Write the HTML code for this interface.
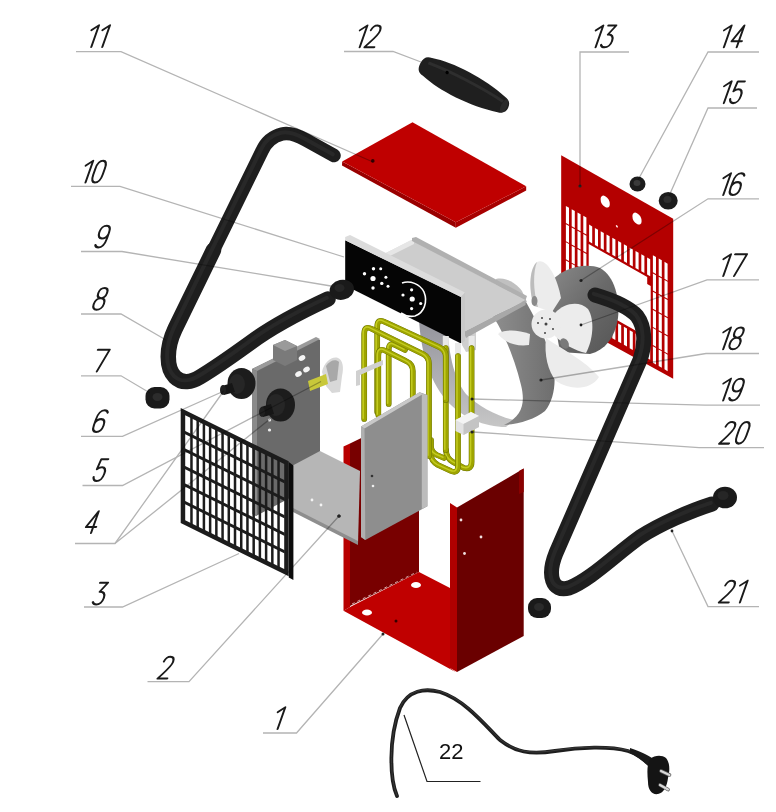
<!DOCTYPE html>
<html><head><meta charset="utf-8"><style>
html,body{margin:0;padding:0;background:#fff;}
body{width:776px;height:812px;overflow:hidden;font-family:"Liberation Sans",sans-serif;}
svg{display:block;filter:blur(0.35px);}
</style></head><body>
<svg width="776" height="812" viewBox="0 0 776 812">
<rect width="776" height="812" fill="#fff"/>
<g transform="matrix(1,0.567,0,1,561.2,155.3)"><path d="M0 0 L112 0 L112 160 L0 162 Z" fill="#b40000"/><rect x="4.7" y="48" width="3.1" height="17.0" fill="#fff"/><rect x="10.5" y="48" width="3.1" height="17.0" fill="#fff"/><rect x="16.3" y="48" width="3.1" height="17.0" fill="#fff"/><rect x="22.1" y="48" width="3.1" height="17.0" fill="#fff"/><rect x="27.9" y="53.5" width="3.1" height="17" fill="#fff"/><rect x="33.7" y="53.5" width="3.1" height="17" fill="#fff"/><rect x="39.5" y="53.5" width="3.1" height="17" fill="#fff"/><rect x="45.3" y="53.5" width="3.1" height="17" fill="#fff"/><rect x="51.1" y="53.5" width="3.1" height="17" fill="#fff"/><rect x="56.9" y="53.5" width="3.1" height="17" fill="#fff"/><rect x="62.7" y="53.5" width="3.1" height="17" fill="#fff"/><rect x="68.5" y="53.5" width="3.1" height="17" fill="#fff"/><rect x="74.3" y="53.5" width="3.1" height="17" fill="#fff"/><rect x="80.1" y="53.5" width="3.1" height="17" fill="#fff"/><rect x="85.9" y="53.5" width="3.1" height="17" fill="#fff"/><rect x="91.7" y="48" width="3.1" height="17.0" fill="#fff"/><rect x="97.5" y="48" width="3.1" height="17.0" fill="#fff"/><rect x="103.3" y="48" width="3.1" height="17.0" fill="#fff"/><rect x="4.7" y="66.2" width="3.1" height="17.0" fill="#fff"/><rect x="10.5" y="66.2" width="3.1" height="17.0" fill="#fff"/><rect x="16.3" y="66.2" width="3.1" height="17.0" fill="#fff"/><rect x="22.1" y="66.2" width="3.1" height="17.0" fill="#fff"/><rect x="91.7" y="66.2" width="3.1" height="17.0" fill="#fff"/><rect x="97.5" y="66.2" width="3.1" height="17.0" fill="#fff"/><rect x="103.3" y="66.2" width="3.1" height="17.0" fill="#fff"/><rect x="4.7" y="84.4" width="3.1" height="17.0" fill="#fff"/><rect x="10.5" y="84.4" width="3.1" height="17.0" fill="#fff"/><rect x="16.3" y="84.4" width="3.1" height="17.0" fill="#fff"/><rect x="22.1" y="84.4" width="3.1" height="17.0" fill="#fff"/><rect x="91.7" y="84.4" width="3.1" height="17.0" fill="#fff"/><rect x="97.5" y="84.4" width="3.1" height="17.0" fill="#fff"/><rect x="103.3" y="84.4" width="3.1" height="17.0" fill="#fff"/><rect x="4.7" y="102.6" width="3.1" height="17.0" fill="#fff"/><rect x="10.5" y="102.6" width="3.1" height="17.0" fill="#fff"/><rect x="16.3" y="102.6" width="3.1" height="17.0" fill="#fff"/><rect x="22.1" y="102.6" width="3.1" height="17.0" fill="#fff"/><rect x="91.7" y="102.6" width="3.1" height="17.0" fill="#fff"/><rect x="97.5" y="102.6" width="3.1" height="17.0" fill="#fff"/><rect x="103.3" y="102.6" width="3.1" height="17.0" fill="#fff"/><rect x="4.7" y="120.8" width="3.1" height="17.0" fill="#fff"/><rect x="10.5" y="120.8" width="3.1" height="17.0" fill="#fff"/><rect x="16.3" y="120.8" width="3.1" height="17.0" fill="#fff"/><rect x="22.1" y="120.8" width="3.1" height="17.0" fill="#fff"/><rect x="91.7" y="120.8" width="3.1" height="17.0" fill="#fff"/><rect x="97.5" y="120.8" width="3.1" height="17.0" fill="#fff"/><rect x="103.3" y="120.8" width="3.1" height="17.0" fill="#fff"/><rect x="4.7" y="139" width="3.1" height="16.5" fill="#fff"/><rect x="10.5" y="139" width="3.1" height="16.5" fill="#fff"/><rect x="16.3" y="139" width="3.1" height="16.5" fill="#fff"/><rect x="22.1" y="139" width="3.1" height="16.5" fill="#fff"/><rect x="27.9" y="136" width="3.1" height="18" fill="#fff"/><rect x="33.7" y="136" width="3.1" height="18" fill="#fff"/><rect x="39.5" y="136" width="3.1" height="18" fill="#fff"/><rect x="45.3" y="136" width="3.1" height="18" fill="#fff"/><rect x="51.1" y="136" width="3.1" height="18" fill="#fff"/><rect x="56.9" y="136" width="3.1" height="18" fill="#fff"/><rect x="62.7" y="136" width="3.1" height="18" fill="#fff"/><rect x="68.5" y="136" width="3.1" height="18" fill="#fff"/><rect x="74.3" y="136" width="3.1" height="18" fill="#fff"/><rect x="80.1" y="136" width="3.1" height="18" fill="#fff"/><rect x="85.9" y="136" width="3.1" height="18" fill="#fff"/><rect x="91.7" y="139" width="3.1" height="16.5" fill="#fff"/><rect x="97.5" y="139" width="3.1" height="16.5" fill="#fff"/><rect x="103.3" y="139" width="3.1" height="16.5" fill="#fff"/><path d="M27.5 73 L86 73 L86 80 L89.5 80 L89.5 128 L87 128 L87 133 L27.5 133 Z" fill="#fff"/><ellipse cx="44" cy="21.3" rx="4.6" ry="5.4" fill="#fff"/><ellipse cx="75.8" cy="20.3" rx="4.6" ry="5.4" fill="#fff"/><circle cx="55.7" cy="39.4" r="1.1" fill="#fdd"/></g>
<ellipse cx="637.5" cy="184" rx="8" ry="7.5" fill="#1c1c1c"/><ellipse cx="637" cy="183" rx="3.5" ry="3" fill="#3a3a3a"/>
<ellipse cx="668.2" cy="200.8" rx="9.5" ry="8.8" fill="#1c1c1c"/><ellipse cx="667.5" cy="199.5" rx="4" ry="3.5" fill="#2e2e2e"/>
<defs><linearGradient id="mot" x1="0" y1="0" x2="1" y2="1"><stop offset="0" stop-color="#8a8a8a"/><stop offset="0.5" stop-color="#6a6a6a"/><stop offset="1" stop-color="#555"/></linearGradient><linearGradient id="shr" x1="0" y1="0" x2="1" y2="0"><stop offset="0" stop-color="#8e8e8e"/><stop offset="1" stop-color="#6e6e6e"/></linearGradient><linearGradient id="shl" x1="0" y1="0" x2="0" y2="1"><stop offset="0" stop-color="#94949c"/><stop offset="1" stop-color="#c6c6c6"/></linearGradient></defs>
<path d="M548 285 C560 268 585 262 600 268 C615 276 620 300 618 318 C615 338 605 350 590 354 L560 352 Z" fill="url(#mot)"/>
<path d="M496 279 C506 277 516 283 522 291 L527 302 L496 303 Z" fill="#c0c0c0"/>
<path d="M419 320 C421 350 428 378 446 400 C462 418 485 427 506 427 L514 420 C496 416 478 406 466 394 C455 380 449 358 447 323 Z" fill="url(#shl)"/>
<path d="M493 316 C505 335 515 360 521 385 C526 405 521 417 504 425 C520 424 535 419 545 411 C553 401 556 386 554 370 C551 350 541 329 526 302 Z" fill="url(#shr)"/>
<defs><linearGradient id="fb" x1="0" y1="0" x2="1" y2="1"><stop offset="0" stop-color="#f6f6f6"/><stop offset="1" stop-color="#dadada"/></linearGradient></defs>
<g fill="#ececec"><path d="M498 334 C505 329 518 330 530 334 L529 345 C516 347 504 342 498 334 Z"/><path d="M534 306 C528 287 530 268 537 262 C546 257 557 276 561 298 L552 312 Z"/><path d="M555 313 C565 302 580 301 588 309 C595 320 593 340 586 353 C575 351 562 343 555 336 Z"/><path d="M546 338 C560 348 586 361 599 377 C591 390 571 391 556 381 C548 371 544 355 546 338 Z"/><circle cx="546" cy="324" r="14.5"/></g>
<path d="M537 262 C530 268 528 287 534 306 L538 307 C533 290 533 272 537 262 Z" fill="#bcbcbc"/>
<ellipse cx="564.5" cy="343.5" rx="4" ry="5.5" fill="#7a7a7a" transform="rotate(-30 564.5 343.5)"/>
<ellipse cx="534.5" cy="301" rx="3" ry="5" fill="#8a8a8a"/>
<g fill="#444"><circle cx="546" cy="324" r="1.5"/><circle cx="542" cy="318" r="1"/><circle cx="550" cy="319" r="1"/><circle cx="538" cy="323" r="1"/><circle cx="553" cy="329" r="1"/><circle cx="545" cy="333" r="1"/></g>
<g fill="#222"><circle cx="580" cy="186" r="1.6"/><circle cx="581" cy="280.5" r="1.6"/><circle cx="581" cy="325" r="1.4"/><circle cx="541" cy="380" r="1.6"/></g>
<polygon points="342.2,161.4 455.8,222.3 455.8,227.7 342,165.5" fill="#9a0000" stroke="none" stroke-width="0" />
<polygon points="455.8,222.3 526.2,186.3 526.2,190.6 455.8,227.7" fill="#a80000" stroke="none" stroke-width="0" />
<polygon points="342.2,161.4 412.5,122.2 526.2,186.3 455.8,222.3" fill="#bf0000" stroke="none" stroke-width="0" />
<circle cx="372.8" cy="160.9" r="1.8" fill="#300"/>
<g transform="translate(464,85.5) rotate(27)"><path d="M-49 0 C-49 -7 -46 -9.5 -41 -10 C-20 -16 15 -16 42 -8.5 C47.5 -7.5 49.5 -4 49.5 0 C49.5 4 47.5 7.5 42 8.5 C15 16 -20 16 -41 10 C-46 9.5 -49 7 -49 0 Z" fill="#1f1f1f"/><path d="M-42 -4 C-20 -6.5 15 -6.5 42 -3.5" stroke="#2e2e2e" stroke-width="3" fill="none"/><ellipse cx="45" cy="0" rx="3" ry="7.2" fill="#2a2a2a"/><circle cx="-21" cy="-4" r="1.7" fill="#000"/></g>
<polygon points="462,333 470,329 476,332 476,350 466,352 462,345" fill="#cfcfcf" stroke="none" stroke-width="0" />
<polygon points="380,256 412,240 525.6,300 463.7,332" fill="#cdcdcd" stroke="none" stroke-width="0" />
<polygon points="384,254 410,240.5 414,240 414,244 388,257" fill="#e6e6e6" stroke="none" stroke-width="0" />
<polygon points="412,238 416,237 527,296 525.6,300 412,241" fill="#b0b0b0" stroke="none" stroke-width="0" />
<polygon points="463.7,332 525.6,300 525.6,305 466,338" fill="#a8a8a8" stroke="none" stroke-width="0" />
<polygon points="345.2,240.3 461,297 461,343.4 345.2,285.4" fill="#050505" stroke="none" stroke-width="0" />
<polygon points="345.2,237 350,235 465,292.5 461,297 345.2,240.3" fill="#dcdcdc" stroke="none" stroke-width="0" />
<polygon points="461,297 465,292.5 465,341 461,343.4" fill="#c8c8c8" stroke="none" stroke-width="0" />
<g fill="#fff"><circle cx="373" cy="278.5" r="2.6"/><circle cx="364.5" cy="273.8" r="1.7"/><circle cx="373.5" cy="268.7" r="1.7"/><circle cx="380.7" cy="268.7" r="1.5"/><circle cx="385.9" cy="277.2" r="1.5"/><circle cx="381.8" cy="283.4" r="1.7"/><circle cx="388" cy="286.2" r="1.5"/><circle cx="373" cy="288" r="1.7"/><circle cx="412.2" cy="299" r="2.6"/><circle cx="411.6" cy="289.8" r="1.6"/><circle cx="403" cy="295" r="1.6"/><circle cx="420.7" cy="303.5" r="1.6"/><circle cx="411.6" cy="308.6" r="1.6"/></g>
<path d="M402 283 C410 280 420 284 424 292 C428 302 424 313 415 316 C410 317 405 316 401 313" stroke="#fff" stroke-width="1.6" fill="none"/>
<rect x="455" y="343" width="6" height="13" fill="#e8e8e8"/>
<rect x="468.6" y="336" width="6" height="12" fill="#e8e8e8"/>
<rect x="442.8" y="336" width="6" height="12" fill="#e8e8e8"/>
<path d="M471.6 348 L471.6 462 Q471.6 470 464 468 L453 462 Q446 458 446 450" fill="none" stroke="#687000" stroke-width="5.7" stroke-linecap="round" stroke-linejoin="round"/>
<path d="M471.6 348 L471.6 462 Q471.6 470 464 468 L453 462 Q446 458 446 450" fill="none" stroke="#9ea400" stroke-width="4.9" stroke-linecap="round" stroke-linejoin="round"/>
<path d="M471.6 348 L471.6 462 Q471.6 470 464 468 L453 462 Q446 458 446 450" fill="none" stroke="#c4cc20" stroke-width="1.47" stroke-linecap="round" stroke-linejoin="round" transform="translate(-1,-0.7)"/>
<path d="M458 356 L458 466 Q458 474 451 471 L438 465 Q431 461 431 454" fill="none" stroke="#687000" stroke-width="5.7" stroke-linecap="round" stroke-linejoin="round"/>
<path d="M458 356 L458 466 Q458 474 451 471 L438 465 Q431 461 431 454" fill="none" stroke="#9ea400" stroke-width="4.9" stroke-linecap="round" stroke-linejoin="round"/>
<path d="M458 356 L458 466 Q458 474 451 471 L438 465 Q431 461 431 454" fill="none" stroke="#c4cc20" stroke-width="1.47" stroke-linecap="round" stroke-linejoin="round" transform="translate(-1,-0.7)"/>
<path d="M431 440 L431 446 Q431 452 437 455 L444 458" fill="none" stroke="#687000" stroke-width="5.7" stroke-linecap="round" stroke-linejoin="round"/>
<path d="M431 440 L431 446 Q431 452 437 455 L444 458" fill="none" stroke="#9ea400" stroke-width="4.9" stroke-linecap="round" stroke-linejoin="round"/>
<path d="M431 440 L431 446 Q431 452 437 455 L444 458" fill="none" stroke="#c4cc20" stroke-width="1.47" stroke-linecap="round" stroke-linejoin="round" transform="translate(-1,-0.7)"/>
<path d="M445.8 348 L445.8 450" fill="none" stroke="#687000" stroke-width="5.7" stroke-linecap="round" stroke-linejoin="round"/>
<path d="M445.8 348 L445.8 450" fill="none" stroke="#9ea400" stroke-width="4.9" stroke-linecap="round" stroke-linejoin="round"/>
<path d="M445.8 348 L445.8 450" fill="none" stroke="#c4cc20" stroke-width="1.47" stroke-linecap="round" stroke-linejoin="round" transform="translate(-1,-0.7)"/>
<path d="M377.2 412 L377.2 327 Q377.2 318 385 322 L439 347 Q445.8 350 445.8 357 L445.8 400" fill="none" stroke="#687000" stroke-width="5.7" stroke-linecap="round" stroke-linejoin="round"/>
<path d="M377.2 412 L377.2 327 Q377.2 318 385 322 L439 347 Q445.8 350 445.8 357 L445.8 400" fill="none" stroke="#9ea400" stroke-width="4.9" stroke-linecap="round" stroke-linejoin="round"/>
<path d="M377.2 412 L377.2 327 Q377.2 318 385 322 L439 347 Q445.8 350 445.8 357 L445.8 400" fill="none" stroke="#c4cc20" stroke-width="1.47" stroke-linecap="round" stroke-linejoin="round" transform="translate(-1,-0.7)"/>
<path d="M388.7 404 L388.7 350 Q388.7 342 395 345 L405 350" fill="none" stroke="#687000" stroke-width="5.7" stroke-linecap="round" stroke-linejoin="round"/>
<path d="M388.7 404 L388.7 350 Q388.7 342 395 345 L405 350" fill="none" stroke="#9ea400" stroke-width="4.9" stroke-linecap="round" stroke-linejoin="round"/>
<path d="M388.7 404 L388.7 350 Q388.7 342 395 345 L405 350" fill="none" stroke="#c4cc20" stroke-width="1.47" stroke-linecap="round" stroke-linejoin="round" transform="translate(-1,-0.7)"/>
<path d="M364.2 419 L364.2 334 Q364.2 325 372 329 L423 354 Q429 357 429 364 L429 456" fill="none" stroke="#687000" stroke-width="5.7" stroke-linecap="round" stroke-linejoin="round"/>
<path d="M364.2 419 L364.2 334 Q364.2 325 372 329 L423 354 Q429 357 429 364 L429 456" fill="none" stroke="#9ea400" stroke-width="4.9" stroke-linecap="round" stroke-linejoin="round"/>
<path d="M364.2 419 L364.2 334 Q364.2 325 372 329 L423 354 Q429 357 429 364 L429 456" fill="none" stroke="#c4cc20" stroke-width="1.47" stroke-linecap="round" stroke-linejoin="round" transform="translate(-1,-0.7)"/>
<path d="M378.3 415 L378.3 356 Q378.3 347 386 351 L406 361 Q412.8 364 412.8 371 L412.8 400" fill="none" stroke="#687000" stroke-width="5.7" stroke-linecap="round" stroke-linejoin="round"/>
<path d="M378.3 415 L378.3 356 Q378.3 347 386 351 L406 361 Q412.8 364 412.8 371 L412.8 400" fill="none" stroke="#9ea400" stroke-width="4.9" stroke-linecap="round" stroke-linejoin="round"/>
<path d="M378.3 415 L378.3 356 Q378.3 347 386 351 L406 361 Q412.8 364 412.8 371 L412.8 400" fill="none" stroke="#c4cc20" stroke-width="1.47" stroke-linecap="round" stroke-linejoin="round" transform="translate(-1,-0.7)"/>
<polygon points="455.5,420 471,412 479,416 479,427 463.5,435 455.5,431" fill="#e2e2e2" stroke="none" stroke-width="0" />
<polygon points="455.5,420 471,412 479,416 463.5,424" fill="#f4f4f4" stroke="none" stroke-width="0" />
<polygon points="463.5,424 479,416 479,427 463.5,435" fill="#c4c4c4" stroke="none" stroke-width="0" />
<circle cx="472" cy="432" r="1.6" fill="#222"/>
<polygon points="356,371 383,360 383,365 360,375 360,385 356,386" fill="#d0d0d0" stroke="none" stroke-width="0" />
<g fill="#222"><circle cx="472" cy="399" r="1.5"/></g>
<polygon points="252,369 316,338 320,340 320,482 256,516 252,514" fill="#6a6a6a" stroke="none" stroke-width="0" />
<polygon points="252,369 316,337 320,339 257,371" fill="#9a9a9a" stroke="none" stroke-width="0" />
<polygon points="252,369 257,371 257,515 252,514" fill="#8a8a8a" stroke="none" stroke-width="0" />
<polygon points="273,345 285,340 297,346 297,360 285,366 273,360" fill="#7a7a7a" stroke="none" stroke-width="0" />
<polygon points="273,345 285,340 297,346 285,351" fill="#9a9a9a" stroke="none" stroke-width="0" />
<g fill="#f4f4f4"><ellipse cx="302" cy="358" rx="3.5" ry="2.6" transform="rotate(-30 302 358)"/><ellipse cx="306.5" cy="369.5" rx="3.5" ry="2.6" transform="rotate(-30 306.5 369.5)"/><ellipse cx="298.5" cy="374" rx="3.5" ry="2.6" transform="rotate(-30 298.5 374)"/></g>
<g fill="#eee"><circle cx="269.5" cy="420" r="1.6"/><circle cx="269.5" cy="430" r="1.6"/></g>
<g><path d="M322 372 C324 362 332 356 338 358 C343 360 344 368 342 376 L340 392 L332 393 L326 386 Z" fill="#d8d8d8"/><path d="M326 366 C330 360 336 359 339 362 L337 380 L330 382 Z" fill="#a8a8a8"/><path d="M308 381 L326 374 L328 384 L310 391 Z" fill="#c8c83a"/></g>
<ellipse cx="280.5" cy="405" rx="14.5" ry="16.5" fill="#1c1c1c"/>
<ellipse cx="276" cy="405" rx="9" ry="11" fill="#262626"/>
<path d="M261 407 L271 404 L274 414 L263 417 Z" fill="#161616"/><ellipse cx="262" cy="412" rx="3" ry="5" fill="#202020"/>
<ellipse cx="241.5" cy="383.5" rx="14" ry="15.5" fill="#1c1c1c"/>
<ellipse cx="237" cy="384" rx="8" ry="10" fill="#262626"/>
<path d="M222 386 L232 383 L235 392 L224 395 Z" fill="#161616"/><ellipse cx="223" cy="390" rx="3" ry="5" fill="#202020"/>
<path d="M334 155.5 L306 140 C298 135.5 290 132 282 134 C272 136.5 266 142 262 151 L213.5 250" fill="none" stroke="#1e1e1e" stroke-width="13.5" stroke-linecap="round" stroke-linejoin="round"/>
<path d="M213.5 250 L175 329 C166 348 166 368 175 377 C182 384 192 382 200 377 C215 368 232 356 250 343 C270 328 300 312 328 299" fill="none" stroke="#1e1e1e" stroke-width="15.5" stroke-linecap="round" stroke-linejoin="round"/>
<path d="M334 155.5 L306 140 C298 135.5 290 132 282 134 C272 136.5 266 142 262 151 L213.5 250 L175 329 C166 348 166 368 175 377 C182 384 192 382 200 377 C215 368 232 356 250 343 C270 328 300 312 328 299" fill="none" stroke="#282828" stroke-width="4" stroke-linecap="round" transform="translate(-1.2,-1.2)"/>
<ellipse cx="341.8" cy="289.8" rx="12.3" ry="10" fill="#1a1a1a" transform="rotate(-12 341.8 289.8)"/>
<ellipse cx="339.5" cy="288" rx="5" ry="4" fill="#252525"/>
<rect x="145.5" y="387" width="24" height="21.5" rx="9" fill="#1a1a1a"/>
<ellipse cx="157.5" cy="397" rx="5" ry="4" fill="#2c2c2c"/>
<polygon points="343.5,446.5 350,443.5 350,607 343.5,610.8" fill="#b80000" stroke="none" stroke-width="0" />
<polygon points="350,443.5 419,410 419,572 350,606" fill="#780000" stroke="none" stroke-width="0" />
<polygon points="343.5,610.8 350,607 419,572 450,588 450,668 455.5,672" fill="#c00000" stroke="none" stroke-width="0" />
<path d="M352 604 L417 572" stroke="#f0d0d0" stroke-width="0.8" stroke-dasharray="3 3"/>
<ellipse cx="367" cy="612.5" rx="5" ry="3" fill="#fff"/><ellipse cx="416" cy="585" rx="5" ry="3" fill="#fff"/>
<circle cx="396" cy="621" r="1.5" fill="#300"/>
<polygon points="450,503 457,507.4 457,672 450,668" fill="#b00000" stroke="none" stroke-width="0" />
<polygon points="457,507.4 523.7,468.6 523.7,636 457,672" fill="#6a0000" stroke="none" stroke-width="0" />
<polygon points="519,471 523.7,468.6 523.7,492 519,494" fill="#8a0000" stroke="none" stroke-width="0" />
<g fill="#f0e0e0"><circle cx="461" cy="520" r="1.4"/><circle cx="481" cy="537" r="1.4"/><circle cx="464.5" cy="553.5" r="1.4"/></g>
<polygon points="289,467.5 320,451 360,471 358,544 293,511" fill="#b6b6b6" stroke="none" stroke-width="0" />
<polygon points="293,508 358,541 358,545 293,512" fill="#8e8e8e" stroke="none" stroke-width="0" />
<g fill="#f4f4f4"><circle cx="312" cy="500" r="1.4"/><circle cx="321" cy="505" r="1.4"/></g><circle cx="339" cy="516" r="1.6" fill="#111"/>
<polygon points="361,426.5 419.6,392.2 427.4,395 427.4,506.3 365.3,540 361,537" fill="#8e8e8e" stroke="none" stroke-width="0" />
<polygon points="361,426.5 419.6,392.2 423,394 364.5,428.5" fill="#c8c8c8" stroke="none" stroke-width="0" />
<polygon points="361,426.5 364.5,428.5 365.3,540 361,537" fill="#b0b0b0" stroke="none" stroke-width="0" />
<polygon points="421.8,393.5 427.4,395 427.4,506.3 421.8,509" fill="#bcbcbc" stroke="none" stroke-width="0" />
<circle cx="372" cy="476" r="1.3" fill="#333"/><circle cx="373" cy="486" r="1.3" fill="#eee"/>
<g transform="matrix(1,0.4935,0,1,180.7,408)" fill="#1c1c1c"><path fill-rule="evenodd" d="M0 0 H108 V115 H0 Z M4.5 5 V110 H103.5 V5 Z"/><rect x="9.52" y="4" width="2.5" height="107"/><rect x="15.74" y="4" width="2.5" height="107"/><rect x="21.96" y="4" width="2.5" height="107"/><rect x="28.18" y="4" width="2.5" height="107"/><rect x="34.40" y="4" width="2.5" height="107"/><rect x="40.62" y="4" width="2.5" height="107"/><rect x="46.84" y="4" width="2.5" height="107"/><rect x="53.06" y="4" width="2.5" height="107"/><rect x="59.28" y="4" width="2.5" height="107"/><rect x="65.50" y="4" width="2.5" height="107"/><rect x="71.72" y="4" width="2.5" height="107"/><rect x="77.94" y="4" width="2.5" height="107"/><rect x="84.16" y="4" width="2.5" height="107"/><rect x="90.38" y="4" width="2.5" height="107"/><rect x="96.60" y="4" width="2.5" height="107"/><rect x="4" y="20.90" width="100" height="3.2"/><rect x="4" y="38.40" width="100" height="3.2"/><rect x="4" y="55.90" width="100" height="3.2"/><rect x="4" y="73.40" width="100" height="3.2"/><rect x="4" y="90.90" width="100" height="3.2"/></g>
<polygon points="288.8,462 293.4,465.5 293.4,580 288.8,577.6" fill="#0c0c0c" stroke="none" stroke-width="0" />
<path d="M595 295 C612 300 628 306 637 316 C646 328 645 346 640 360 L556 553 C547 575 552 593 569 588 C590 580 615 555 640 537 C660 524 690 511 712 504" fill="none" stroke="#1e1e1e" stroke-width="15" stroke-linecap="round" stroke-linejoin="round"/>
<path d="M595 295 C612 300 628 306 637 316 C646 328 645 346 640 360 L556 553 C547 575 552 593 569 588 C590 580 615 555 640 537 C660 524 690 511 712 504" fill="none" stroke="#282828" stroke-width="4" stroke-linecap="round" transform="translate(-1.2,-1.2)"/>
<ellipse cx="725" cy="497.5" rx="12" ry="10.8" fill="#1a1a1a"/><ellipse cx="723" cy="495.5" rx="5.5" ry="4.5" fill="#262626"/>
<rect x="528" y="598" width="23" height="20" rx="9" fill="#1a1a1a"/><ellipse cx="539" cy="607" rx="5" ry="4" fill="#2a2a2a"/>
<path d="M397 796 C390 780 388 740 400 708 C408 690 425 688 440 692 C465 700 485 725 500 740 C515 752 530 755 555 751 C580 747 610 746 628 751 C638 754 645 760 650 765" fill="none" stroke="#1e1e1e" stroke-width="3.8" stroke-linecap="round"/>
<path d="M397 796 C390 780 388 740 400 708 C408 690 425 688 440 692 C465 700 485 725 500 740 C515 752 530 755 555 751 C580 747 610 746 628 751 C638 754 645 760 650 765" fill="none" stroke="#3a3a3a" stroke-width="1" stroke-linecap="round" transform="translate(0,-0.6)"/>
<path d="M630 748 C640 751 647 755 652 758 L653 770 C646 764 638 757 630 753 Z" fill="#1a1a1a"/>
<path d="M650 759 C655 755 662 755 666 758 C670 763 670 770 668 778 C667 786 664 793 658 794 C652 795 648 790 648 782 C647 772 647 764 650 759 Z" fill="#141414"/>
<path d="M661 771 L669.5 775 M660 785 L668 789.5" stroke="#555" stroke-width="3.6" stroke-linecap="round"/>
<path d="M661 771 L669.5 775 M660 785 L668 789.5" stroke="#d8d8d8" stroke-width="2.2" stroke-linecap="round"/>
<polyline points="404,715 427,781.5 480.5,781.5" fill="none" stroke="#222" stroke-width="1.2"/>
<text x="439" y="759" font-family="Liberation Sans, sans-serif" font-size="22" fill="#111">22</text>
<g style="mix-blend-mode:multiply">
<polyline points="76,51.6 121,51.6 373,162" fill="none" stroke="#b4b4b4" stroke-width="1.3"/>
<polyline points="344,51.5 393,51.5 421,62" fill="none" stroke="#b4b4b4" stroke-width="1.3"/>
<polyline points="629,52 580,52 580,186" fill="none" stroke="#b4b4b4" stroke-width="1.3"/>
<polyline points="759,52 708,52 638,180" fill="none" stroke="#b4b4b4" stroke-width="1.3"/>
<polyline points="757,108 708,108 669,196" fill="none" stroke="#b4b4b4" stroke-width="1.3"/>
<polyline points="759,198.8 708,198.8 581,280.5" fill="none" stroke="#b4b4b4" stroke-width="1.3"/>
<polyline points="759,279.9 707,279.9 581,325" fill="none" stroke="#b4b4b4" stroke-width="1.3"/>
<polyline points="759,353.5 706,353.5 541,380" fill="none" stroke="#b4b4b4" stroke-width="1.3"/>
<polyline points="760,405.2 705,405.2 472,399" fill="none" stroke="#b4b4b4" stroke-width="1.3"/>
<polyline points="764,447.6 699,447.6 473,432" fill="none" stroke="#b4b4b4" stroke-width="1.3"/>
<polyline points="759,606.6 708,606.6 672,531" fill="none" stroke="#b4b4b4" stroke-width="1.3"/>
<polyline points="71,186.3 120,186.3 344,257" fill="none" stroke="#b4b4b4" stroke-width="1.3"/>
<polyline points="81,251.5 122,251.5 331,286" fill="none" stroke="#b4b4b4" stroke-width="1.3"/>
<polyline points="81,314 121,314 166,340" fill="none" stroke="#b4b4b4" stroke-width="1.3"/>
<polyline points="81,375.8 121,375.8 150,393" fill="none" stroke="#b4b4b4" stroke-width="1.3"/>
<polyline points="81,436.3 122.5,436.3 224,391" fill="none" stroke="#b4b4b4" stroke-width="1.3"/>
<polyline points="82.5,485.5 122.5,485.5 321,381.5" fill="none" stroke="#b4b4b4" stroke-width="1.3"/>
<polyline points="75,543.5 115,543.5 223,392" fill="none" stroke="#b4b4b4" stroke-width="1.3"/>
<polyline points="115,543.5 270,419" fill="none" stroke="#b4b4b4" stroke-width="1.3"/>
<polyline points="84,607 122.5,607 239,553.5" fill="none" stroke="#b4b4b4" stroke-width="1.3"/>
<polyline points="147.5,681.7 189,681.7 339,516" fill="none" stroke="#b4b4b4" stroke-width="1.3"/>
<polyline points="263,733 296.5,733 383,634" fill="none" stroke="#b4b4b4" stroke-width="1.3"/>
</g>
<g fill="#222"><circle cx="672" cy="531" r="1.4"/><circle cx="339" cy="516" r="1.6"/><circle cx="383" cy="634" r="1.5"/></g>
<g transform="translate(85.1,47) skewX(-19.5) scale(1.000)" fill="none" stroke="#1a1a1a" stroke-width="2.05" stroke-linecap="round" stroke-linejoin="round"><path transform="translate(0.00,0)" d="M0.4 -16.9 L6.2 -21.7 L6.2 0"/><path transform="translate(11.00,0)" d="M0.4 -16.9 L6.2 -21.7 L6.2 0"/></g>
<g transform="translate(353.5,47.2) skewX(-19.5) scale(1.000)" fill="none" stroke="#1a1a1a" stroke-width="2.05" stroke-linecap="round" stroke-linejoin="round"><path transform="translate(0.00,0)" d="M0.4 -16.9 L6.2 -21.7 L6.2 0"/><path transform="translate(11.00,0)" d="M0.4 -17 C0.9 -20.3 2.9 -21.7 5.1 -21.7 C7.8 -21.7 9.7 -19.8 9.7 -16.5 C9.7 -12 5.8 -8 0 0 L9.8 0"/></g>
<g transform="translate(589.4,47.3) skewX(-19.5) scale(1.000)" fill="none" stroke="#1a1a1a" stroke-width="2.05" stroke-linecap="round" stroke-linejoin="round"><path transform="translate(0.00,0)" d="M0.4 -16.9 L6.2 -21.7 L6.2 0"/><path transform="translate(11.00,0)" d="M0.2 -21.7 L8.2 -21.7 L3 -12.8 C7.2 -13 9.4 -10.4 9.4 -6.4 C9.4 -2.4 7.3 0 4.4 0 C2.3 0 0.7 -0.8 -0.2 -2.4"/></g>
<g transform="translate(717.7,47.2) skewX(-19.5) scale(1.000)" fill="none" stroke="#1a1a1a" stroke-width="2.05" stroke-linecap="round" stroke-linejoin="round"><path transform="translate(0.00,0)" d="M0.4 -16.9 L6.2 -21.7 L6.2 0"/><path transform="translate(11.00,0)" d="M8 0 L8 -21.7 L0.8 -6 L11 -6"/></g>
<g transform="translate(717.7,103.1) skewX(-19.5) scale(1.000)" fill="none" stroke="#1a1a1a" stroke-width="2.05" stroke-linecap="round" stroke-linejoin="round"><path transform="translate(0.00,0)" d="M0.4 -16.9 L6.2 -21.7 L6.2 0"/><path transform="translate(11.00,0)" d="M8.4 -21.7 L1.4 -21.7 L0.6 -11.8 C2 -13.3 3.4 -13.8 4.8 -13.8 C7.9 -13.8 9.6 -11.3 9.6 -7.2 C9.6 -2.8 7.6 0 4.7 0 C2.3 0 0.6 -1.6 0 -4"/></g>
<g transform="translate(717.1,195) skewX(-19.5) scale(1.000)" fill="none" stroke="#1a1a1a" stroke-width="2.05" stroke-linecap="round" stroke-linejoin="round"><path transform="translate(0.00,0)" d="M0.4 -16.9 L6.2 -21.7 L6.2 0"/><path transform="translate(11.00,0)" d="M9.4 -19.3 C8.7 -20.9 7.2 -21.7 5.3 -21.7 C2 -21.7 0 -18.8 0 -12.8 L0 -7 C0 -2.5 2 0 4.9 0 C7.9 0 9.8 -2.5 9.8 -6.4 C9.8 -10.4 7.9 -12.9 5 -12.9 C2.3 -12.9 0.5 -10.9 0 -8.4"/></g>
<g transform="translate(717.1,276) skewX(-19.5) scale(1.000)" fill="none" stroke="#1a1a1a" stroke-width="2.05" stroke-linecap="round" stroke-linejoin="round"><path transform="translate(0.00,0)" d="M0.4 -16.9 L6.2 -21.7 L6.2 0"/><path transform="translate(11.00,0)" d="M-0.6 -21.7 L11.2 -21.7 L6 0"/></g>
<g transform="translate(717,349.2) skewX(-19.5) scale(1.000)" fill="none" stroke="#1a1a1a" stroke-width="2.05" stroke-linecap="round" stroke-linejoin="round"><path transform="translate(0.00,0)" d="M0.4 -16.9 L6.2 -21.7 L6.2 0"/><path transform="translate(11.00,0)" d="M5 -11.5 C2.2 -11.5 0.6 -13.6 0.6 -16.6 C0.6 -19.8 2.4 -21.7 5 -21.7 C7.6 -21.7 9.3 -19.8 9.3 -16.6 C9.3 -13.6 7.7 -11.5 5 -11.5 Z M5 -11.5 C8.1 -11.5 10 -9.2 10 -5.7 C10 -2.2 8 0 4.9 0 C1.9 0 -0.1 -2.2 -0.1 -5.7 C-0.1 -9.2 1.8 -11.5 5 -11.5 Z"/></g>
<g transform="translate(717,400.4) skewX(-19.5) scale(1.000)" fill="none" stroke="#1a1a1a" stroke-width="2.05" stroke-linecap="round" stroke-linejoin="round"><path transform="translate(0.00,0)" d="M0.4 -16.9 L6.2 -21.7 L6.2 0"/><path transform="translate(11.00,0)" d="M0.5 -2.4 C1.2 -0.8 2.7 0 4.6 0 C7.9 0 9.8 -3 9.8 -8.9 L9.8 -14.8 C9.8 -19.3 7.9 -21.7 4.9 -21.7 C1.9 -21.7 0 -19.3 0 -15.3 C0 -11.4 2 -8.9 4.9 -8.9 C7.6 -8.9 9.4 -10.9 9.8 -13.4"/></g>
<g transform="translate(719.2,443.6) skewX(-19.5) scale(1.000)" fill="none" stroke="#1a1a1a" stroke-width="2.05" stroke-linecap="round" stroke-linejoin="round"><path transform="translate(0.00,0)" d="M0.4 -17 C0.9 -20.3 2.9 -21.7 5.1 -21.7 C7.8 -21.7 9.7 -19.8 9.7 -16.5 C9.7 -12 5.8 -8 0 0 L9.8 0"/><path transform="translate(14.80,0)" d="M5 -21.7 C8.2 -21.7 9.6 -18.5 9.6 -14 L9.6 -8 C9.6 -3 8 0 4.8 0 C1.6 0 0.2 -3 0.2 -8 L0.2 -14 C0.2 -18.5 1.8 -21.7 5 -21.7 Z"/></g>
<g transform="translate(718.9,602.4) skewX(-19.5) scale(1.000)" fill="none" stroke="#1a1a1a" stroke-width="2.05" stroke-linecap="round" stroke-linejoin="round"><path transform="translate(0.00,0)" d="M0.4 -17 C0.9 -20.3 2.9 -21.7 5.1 -21.7 C7.8 -21.7 9.7 -19.8 9.7 -16.5 C9.7 -12 5.8 -8 0 0 L9.8 0"/><path transform="translate(14.80,0)" d="M0.4 -16.9 L6.2 -21.7 L6.2 0"/></g>
<g transform="translate(79.3,182.5) skewX(-19.5) scale(1.000)" fill="none" stroke="#1a1a1a" stroke-width="2.05" stroke-linecap="round" stroke-linejoin="round"><path transform="translate(0.00,0)" d="M0.4 -16.9 L6.2 -21.7 L6.2 0"/><path transform="translate(11.00,0)" d="M5 -21.7 C8.2 -21.7 9.6 -18.5 9.6 -14 L9.6 -8 C9.6 -3 8 0 4.8 0 C1.6 0 0.2 -3 0.2 -8 L0.2 -14 C0.2 -18.5 1.8 -21.7 5 -21.7 Z"/></g>
<g transform="translate(94,247.4) skewX(-19.5) scale(1.000)" fill="none" stroke="#1a1a1a" stroke-width="2.05" stroke-linecap="round" stroke-linejoin="round"><path transform="translate(0.00,0)" d="M0.5 -2.4 C1.2 -0.8 2.7 0 4.6 0 C7.9 0 9.8 -3 9.8 -8.9 L9.8 -14.8 C9.8 -19.3 7.9 -21.7 4.9 -21.7 C1.9 -21.7 0 -19.3 0 -15.3 C0 -11.4 2 -8.9 4.9 -8.9 C7.6 -8.9 9.4 -10.9 9.8 -13.4"/></g>
<g transform="translate(91.85,309.7) skewX(-19.5) scale(1.000)" fill="none" stroke="#1a1a1a" stroke-width="2.05" stroke-linecap="round" stroke-linejoin="round"><path transform="translate(0.00,0)" d="M5 -11.5 C2.2 -11.5 0.6 -13.6 0.6 -16.6 C0.6 -19.8 2.4 -21.7 5 -21.7 C7.6 -21.7 9.3 -19.8 9.3 -16.6 C9.3 -13.6 7.7 -11.5 5 -11.5 Z M5 -11.5 C8.1 -11.5 10 -9.2 10 -5.7 C10 -2.2 8 0 4.9 0 C1.9 0 -0.1 -2.2 -0.1 -5.7 C-0.1 -9.2 1.8 -11.5 5 -11.5 Z"/></g>
<g transform="translate(90.8,371.5) skewX(-19.5) scale(1.000)" fill="none" stroke="#1a1a1a" stroke-width="2.05" stroke-linecap="round" stroke-linejoin="round"><path transform="translate(0.00,0)" d="M-0.6 -21.7 L11.2 -21.7 L6 0"/></g>
<g transform="translate(91.5,432) skewX(-19.5) scale(1.000)" fill="none" stroke="#1a1a1a" stroke-width="2.05" stroke-linecap="round" stroke-linejoin="round"><path transform="translate(0.00,0)" d="M9.4 -19.3 C8.7 -20.9 7.2 -21.7 5.3 -21.7 C2 -21.7 0 -18.8 0 -12.8 L0 -7 C0 -2.5 2 0 4.9 0 C7.9 0 9.8 -2.5 9.8 -6.4 C9.8 -10.4 7.9 -12.9 5 -12.9 C2.3 -12.9 0.5 -10.9 0 -8.4"/></g>
<g transform="translate(92.15,481) skewX(-19.5) scale(1.000)" fill="none" stroke="#1a1a1a" stroke-width="2.05" stroke-linecap="round" stroke-linejoin="round"><path transform="translate(0.00,0)" d="M8.4 -21.7 L1.4 -21.7 L0.6 -11.8 C2 -13.3 3.4 -13.8 4.8 -13.8 C7.9 -13.8 9.6 -11.3 9.6 -7.2 C9.6 -2.8 7.6 0 4.7 0 C2.3 0 0.6 -1.6 0 -4"/></g>
<g transform="translate(83.05,533) skewX(-19.5) scale(1.000)" fill="none" stroke="#1a1a1a" stroke-width="2.05" stroke-linecap="round" stroke-linejoin="round"><path transform="translate(0.00,0)" d="M8 0 L8 -21.7 L0.8 -6 L11 -6"/></g>
<g transform="translate(92.15,604.5) skewX(-19.5) scale(1.000)" fill="none" stroke="#1a1a1a" stroke-width="2.05" stroke-linecap="round" stroke-linejoin="round"><path transform="translate(0.00,0)" d="M0.2 -21.7 L8.2 -21.7 L3 -12.8 C7.2 -13 9.4 -10.4 9.4 -6.4 C9.4 -2.4 7.3 0 4.4 0 C2.3 0 0.7 -0.8 -0.2 -2.4"/></g>
<g transform="translate(157.5,678.5) skewX(-19.5) scale(1.000)" fill="none" stroke="#1a1a1a" stroke-width="2.05" stroke-linecap="round" stroke-linejoin="round"><path transform="translate(0.00,0)" d="M0.4 -17 C0.9 -20.3 2.9 -21.7 5.1 -21.7 C7.8 -21.7 9.7 -19.8 9.7 -16.5 C9.7 -12 5.8 -8 0 0 L9.8 0"/></g>
<g transform="translate(271.4,729) skewX(-19.5) scale(1.000)" fill="none" stroke="#1a1a1a" stroke-width="2.05" stroke-linecap="round" stroke-linejoin="round"><path transform="translate(0.00,0)" d="M0.4 -16.9 L6.2 -21.7 L6.2 0"/></g>
</svg>
</body></html>
